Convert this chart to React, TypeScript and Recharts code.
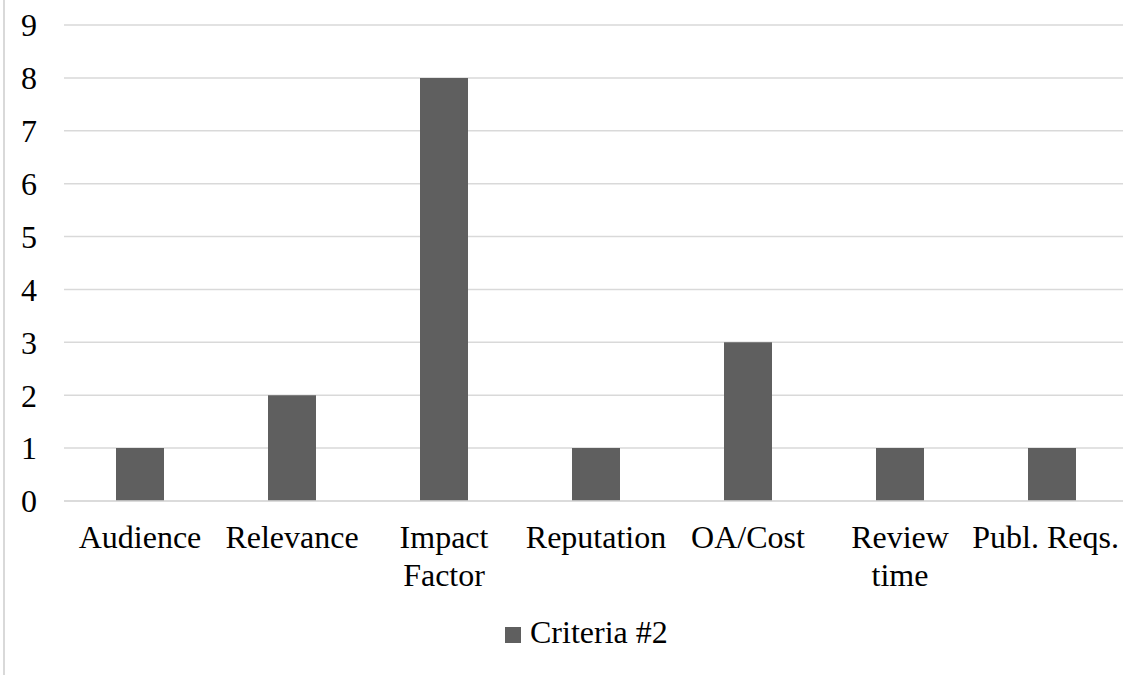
import { BarChart, Bar, XAxis, YAxis, CartesianGrid, Legend } from "recharts";

const categories = [
  "Audience",
  "Relevance",
  "Impact Factor",
  "Reputation",
  "OA/Cost",
  "Review time",
  "Publ. Reqs.",
];
const criteria2 = [1, 2, 8, 1, 3, 1, 1];
const yTicks = [0, 1, 2, 3, 4, 5, 6, 7, 8, 9];

const FONT = '"Liberation Serif", "Times New Roman", serif';
const FONT_SIZE = 32;
const BAR_COLOR = "#5f5f5f";
const GRID_COLOR = "#d9d9d9";
const BAND_WIDTH = 150;
const VIEW_WIDTH = 1123;

const data = categories.map((name, i) => ({ name, value: criteria2[i] }));

let measureCtx: CanvasRenderingContext2D | null = null;
function textWidth(s: string): number {
  if (!measureCtx) {
    measureCtx = document.createElement("canvas").getContext("2d");
  }
  if (!measureCtx) return s.length * FONT_SIZE * 0.45;
  measureCtx.font = `${FONT_SIZE}px ${FONT}`;
  return measureCtx.measureText(s).width;
}

// greedy word wrap to the category band width
function wrapLabel(label: string, maxWidth: number): string[] {
  const words = label.split(" ");
  const lines: string[] = [];
  let cur = "";
  for (const w of words) {
    const next = cur ? `${cur} ${w}` : w;
    if (cur && textWidth(next) > maxWidth) {
      lines.push(cur);
      cur = w;
    } else {
      cur = next;
    }
  }
  if (cur) lines.push(cur);
  return lines;
}

// eslint-disable-next-line @typescript-eslint/no-explicit-any
function CategoryTick({ x, y, payload }: any) {
  const lines = wrapLabel(String(payload.value), BAND_WIDTH);
  const widest = Math.max(...lines.map(textWidth));
  // keep the last label inside the visible chart area
  const cx = Math.min(x, VIEW_WIDTH - 4 - widest / 2);
  return (
    <text x={cx} y={y + 47} textAnchor="middle" fill="#000" fontFamily={FONT} fontSize={FONT_SIZE}>
      {lines.map((line, i) => (
        <tspan key={i} x={cx} dy={i === 0 ? 0 : 38}>
          {line}
        </tspan>
      ))}
    </text>
  );
}

// eslint-disable-next-line @typescript-eslint/no-explicit-any
function LegendContent({ payload }: any) {
  return (
    <div style={{ display: "flex", alignItems: "center", fontFamily: FONT, fontSize: FONT_SIZE, color: "#000" }}>
      {(payload ?? []).map((p: { value: string; color: string }) => (
        <span key={p.value} style={{ display: "flex", alignItems: "center" }}>
          <span style={{ width: 16, height: 16, background: BAR_COLOR, marginRight: 9, marginTop: 4 }} />
          {p.value}
        </span>
      ))}
    </div>
  );
}

export default function App() {
  return (
    <div
      style={{
        position: "absolute",
        left: 0,
        top: 0,
        width: VIEW_WIDTH,
        height: 675,
        overflow: "hidden",
        background: "#fff",
      }}
    >
      {/* chart area frame, only its left edge is in view */}
      <div style={{ position: "absolute", left: 3, top: 0, width: 2, height: 675, background: GRID_COLOR }} />
      <BarChart
        width={1140}
        height={675}
        data={data}
        margin={{ top: 25, right: 12, left: 0, bottom: 74 }}
        barSize={48}
      >
        <CartesianGrid vertical={false} stroke={GRID_COLOR} strokeWidth={1.5} />
        <XAxis
          dataKey="name"
          height={100}
          axisLine={{ stroke: GRID_COLOR, strokeWidth: 1.5 }}
          tickLine={false}
          tickSize={0}
          tickMargin={0}
          interval={0}
          tick={<CategoryTick />}
        />
        <YAxis
          width={64}
          domain={[0, 9]}
          ticks={yTicks}
          axisLine={false}
          tickLine={false}
          tickSize={0}
          tickMargin={27}
          tick={{ fontFamily: FONT, fontSize: FONT_SIZE, fill: "#000" }}
        />
        <Legend
          layout="horizontal"
          verticalAlign="middle"
          align="center"
          wrapperStyle={{ left: 505, top: 614, width: "auto" }}
          content={<LegendContent />}
        />
        <Bar dataKey="value" name="Criteria #2" fill={BAR_COLOR} isAnimationActive={false} />
      </BarChart>
    </div>
  );
}
